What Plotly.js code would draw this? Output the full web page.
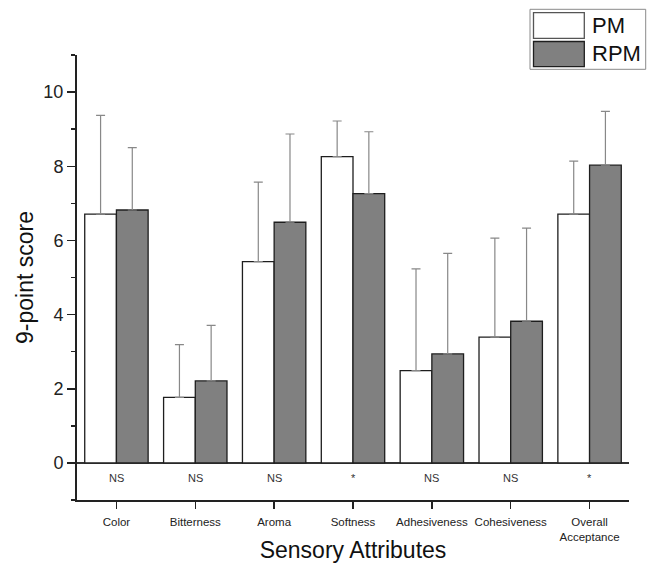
<!DOCTYPE html>
<html>
<head>
<meta charset="utf-8">
<script src="https://cdn.plot.ly/plotly-3.0.1.min.js"></script>
<style>html,body{margin:0;padding:0;background:#fff;}#chart{width:651px;height:563px;}</style>
</head>
<body>
<div id="chart"></div>
<script>
// ---- data ----
var categories = ['Color', 'Bitterness', 'Aroma', 'Softness', 'Adhesiveness', 'Cohesiveness', 'Overall<br>Acceptance'];
var pmValues   = [6.71, 1.77, 5.43, 8.26, 2.49, 3.39, 6.71];
var pmErrors   = [2.66, 1.42, 2.14, 0.96, 2.74, 2.67, 1.43];
var rpmValues  = [6.82, 2.21, 6.49, 7.26, 2.94, 3.82, 8.03];
var rpmErrors  = [1.68, 1.50, 2.38, 1.67, 2.71, 2.51, 1.45];
var significance = ['NS', 'NS', 'NS', '*', 'NS', 'NS', '*'];
var seriesNames = ['PM', 'RPM'];
var yTickValues = [0, 2, 4, 6, 8, 10];

var FONT = 'Liberation Sans, Arial, Helvetica, sans-serif';
var M = {l: 77, r: 22, t: 55, b: 63};
var W = 651, H = 563;
var PW = W - M.l - M.r, PH = H - M.t - M.b;
function px(x) { return (x - M.l) / PW; }
function py(y) { return (H - M.b - y) / PH; }

function zeros(n) { var a = []; for (var i = 0; i < n; i++) a.push(0); return a; }

var traces = [
  {
    type: 'bar', name: seriesNames[0], x: categories, y: pmValues,
    marker: {color: '#ffffff', line: {color: '#1e1e1e', width: 1.3}},
    error_y: {type: 'data', symmetric: false, array: pmErrors, arrayminus: zeros(pmErrors.length),
              color: '#888888', thickness: 1.2, width: 4.5},
    showlegend: false, hoverinfo: 'none'
  },
  {
    type: 'bar', name: seriesNames[1], x: categories, y: rpmValues,
    marker: {color: '#808080', line: {color: '#1e1e1e', width: 1.3}},
    error_y: {type: 'data', symmetric: false, array: rpmErrors, arrayminus: zeros(rpmErrors.length),
              color: '#888888', thickness: 1.2, width: 4.5},
    showlegend: false, hoverinfo: 'none'
  }
];

var annotations = categories.map(function (c, i) {
  return {x: c, y: -0.4, xref: 'x', yref: 'y', text: significance[i], showarrow: false,
          font: {family: FONT, size: 11, color: '#333'}, xanchor: 'center', yanchor: 'middle'};
});

// legend (drawn manually to reproduce large swatches)
var shapes = [
  {type: 'rect', xref: 'paper', yref: 'paper', x0: px(530), x1: px(645.7), y0: py(9.3), y1: py(69.3),
   line: {color: '#8a8a8a', width: 1}, fillcolor: '#ffffff'},
  {type: 'rect', xref: 'paper', yref: 'paper', x0: px(533.5), x1: px(584.3), y0: py(12.7), y1: py(38.3),
   line: {color: '#555555', width: 1.3}, fillcolor: '#ffffff'},
  {type: 'rect', xref: 'paper', yref: 'paper', x0: px(533.5), x1: px(584.3), y0: py(41.5), y1: py(66.7),
   line: {color: '#1e1e1e', width: 1.3}, fillcolor: '#808080'}
];
annotations.push({xref: 'paper', yref: 'paper', x: px(590), y: py(25.5), text: seriesNames[0], showarrow: false,
  xanchor: 'left', yanchor: 'middle', font: {family: FONT, size: 22, color: '#111'}});
annotations.push({xref: 'paper', yref: 'paper', x: px(590), y: py(54), text: seriesNames[1], showarrow: false,
  xanchor: 'left', yanchor: 'middle', font: {family: FONT, size: 22, color: '#111'}});

var layout = {
  width: W, height: H,
  margin: M,
  paper_bgcolor: '#ffffff', plot_bgcolor: '#ffffff',
  barmode: 'group', bargap: 0.196, bargroupgap: 0,
  font: {family: FONT, color: '#222'},
  xaxis: {
    type: 'category', range: [-0.5, 6.5],
    showline: true, linecolor: '#222', linewidth: 2,
    ticks: 'outside', ticklen: 7, tickwidth: 1.5, tickcolor: '#222',
    ticklabelstandoff: 3,
    tickfont: {family: FONT, size: 11.5, color: '#222'},
    showgrid: false, zeroline: false, fixedrange: true,
    title: {text: 'Sensory Attributes', font: {family: FONT, size: 23, color: '#111'}, standoff: 8}
  },
  yaxis: {
    range: [-1, 11], tickvals: yTickValues,
    showline: true, linecolor: '#222', linewidth: 2,
    ticks: 'outside', ticklen: 8, tickwidth: 1.5, tickcolor: '#222',
    minor: {tickvals: [-1, 1, 3, 5, 7, 9, 11], ticks: 'outside', ticklen: 4, tickwidth: 1.5, tickcolor: '#222', showgrid: false},
    tickfont: {family: FONT, size: 18, color: '#222'},
    showgrid: false,
    zeroline: true, zerolinecolor: '#333', zerolinewidth: 1.5,
    fixedrange: true,
    title: {text: '9-point score', font: {family: FONT, size: 23, color: '#111'}, standoff: 3}
  },
  shapes: shapes,
  annotations: annotations,
  showlegend: false
};

Plotly.newPlot('chart', traces, layout, {displayModeBar: false, staticPlot: true});
</script>
</body>
</html>
